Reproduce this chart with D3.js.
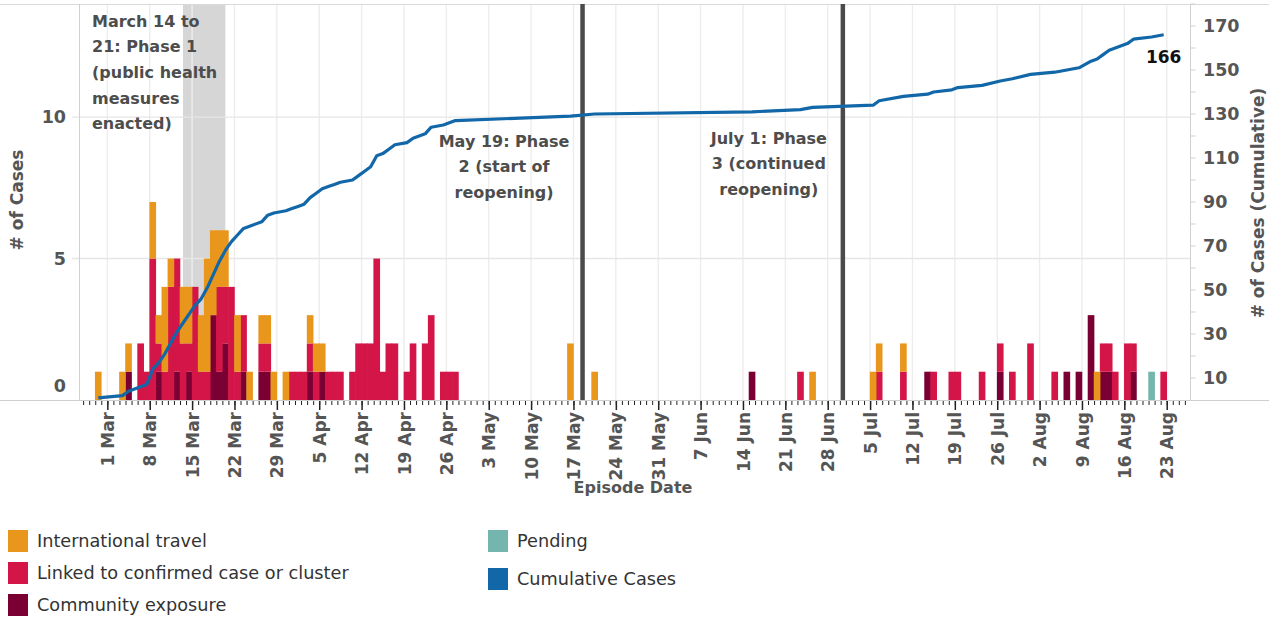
<!DOCTYPE html>
<html><head><meta charset="utf-8">
<script src="https://cdn.jsdelivr.net/npm/d3@7"></script>
<style>
body{margin:0;background:#fff;}
svg text{font-family:"DejaVu Sans",sans-serif;}
</style></head><body>
<svg id="chart" width="1269" height="617"></svg>
<script>
// ---------- data ----------
const dates = ["2020-02-28","2020-03-03","2020-03-04","2020-03-06","2020-03-07","2020-03-08","2020-03-09","2020-03-10","2020-03-11","2020-03-12",
 "2020-03-13","2020-03-14","2020-03-15","2020-03-16","2020-03-17","2020-03-18","2020-03-19","2020-03-20","2020-03-21","2020-03-22",
 "2020-03-23","2020-03-24","2020-03-26","2020-03-27","2020-03-28","2020-03-30","2020-03-31","2020-04-01","2020-04-02","2020-04-03",
 "2020-04-04","2020-04-05","2020-04-06","2020-04-07","2020-04-08","2020-04-10","2020-04-11","2020-04-12","2020-04-13","2020-04-14",
 "2020-04-15","2020-04-16","2020-04-17","2020-04-19","2020-04-20","2020-04-22","2020-04-23","2020-04-25","2020-04-26","2020-04-27",
 "2020-05-16","2020-05-20","2020-06-15","2020-06-23","2020-06-25","2020-07-05","2020-07-06","2020-07-10","2020-07-14","2020-07-15",
 "2020-07-18","2020-07-19","2020-07-23","2020-07-26","2020-07-28","2020-07-31","2020-08-04","2020-08-06","2020-08-08","2020-08-10",
 "2020-08-11","2020-08-12","2020-08-13","2020-08-14","2020-08-16","2020-08-17","2020-08-20","2020-08-22"];
const communityExposure = [0,0,1,0,0,0,1,0,0,1, 0,1,0,0,0,3,1,2,0,0, 1,0,1,1,0,0,0,0,0,1, 0,1,0,0,0,0,0,0,0,0,
 0,0,0,0,0,0,0,0,0,0, 0,0,1,0,0,0,0,0,1,0, 0,0,0,1,0,0,0,1,1,3, 0,1,1,0,0,1,0,0];
const linkedCases = [0,0,0,2,1,5,1,1,4,4, 2,1,4,1,1,0,3,2,4,1, 2,0,1,1,0,0,1,1,1,1, 1,0,1,1,1,1,2,2,2,5,
 1,2,2,1,2,2,3,1,1,1, 0,0,0,1,0,0,1,1,0,1, 1,1,1,1,1,2,1,0,0,0, 0,1,1,1,2,1,0,1];
const internationalTravel = [1,1,1,0,0,2,1,3,1,0, 2,2,0,2,4,3,2,2,0,2, 0,1,1,1,1,1,0,0,0,1, 1,1,0,0,0,0,0,0,0,0,
 0,0,0,0,0,0,0,0,0,0, 2,1,0,0,1,1,1,1,0,0, 0,0,0,0,0,0,0,0,0,0, 1,0,0,0,0,0,0,0];
const pendingCases = [0,0,0,0,0,0,0,0,0,0, 0,0,0,0,0,0,0,0,0,0, 0,0,0,0,0,0,0,0,0,0, 0,0,0,0,0,0,0,0,0,0,
 0,0,0,0,0,0,0,0,0,0, 0,0,0,0,0,0,0,0,0,0, 0,0,0,0,0,0,0,0,0,0, 0,0,0,0,0,0,1,0];
const cumulativeCases = [1,2,4,6,7,14,17,21,26,31, 35,39,43,46,51,57,63,68,72,75, 78,79,81,84,85,86,87,88,89,92,
 94,96,97,98,99,100,102,104,106,111, 112,114,116,117,119,121,124,125,126,127, 129,130,131,132,133,134,136,138,139,140,
 141,142,143,145,146,148,149,150,151,154, 155,157,159,160,162,164,165,166];

const seriesKeys = ["community","linked","intl","pending"];
const legendLabels = ["International travel","Linked to confirmed case or cluster","Community exposure","Pending","Cumulative Cases"];
const leftTicks = [0,5,10];
const rightTicks = [10,30,50,70,90,110,130,150,170];
const phase1 = {start:"2020-03-14", end:"2020-03-21", text:["March 14 to","21: Phase 1","(public health","measures","enacted)"]};
const phaseLines = [
  {date:"2020-05-19", text:["May 19: Phase","2 (start of","reopening)"]},
  {date:"2020-07-01", text:["July 1: Phase","3 (continued","reopening)"]}
];
const xTitle = "Episode Date", yTitle = "# of Cases", y2Title = "# of Cases (Cumulative)";

// ---------- styles ----------
const colors = {intl:"#e9961c", linked:"#d31548", community:"#7a0033", pending:"#74b6ae", cum:"#1167a8"};
const textGray = "#555";

// ---------- setup ----------
const svg = d3.select("#chart");
const parse = d3.utcParse("%Y-%m-%d");
const L = 79.5, R = 1190.5, T = 4, B = 400;
const x = d3.scaleUtc()
  .domain([new Date(Date.UTC(2020,1,25,9,36)), new Date(Date.UTC(2020,7,26,22,19))])
  .range([L, R]);
const yL = d3.scaleLinear().domain([0,14]).range([B, T]);
const yR = d3.scaleLinear().domain([0,180]).range([B, T]);
const half = d => d3.utcHour.offset(d, -12);

const rows = dates.map((d,i) => ({date: parse(d), community: communityExposure[i], linked: linkedCases[i],
  intl: internationalTravel[i], pending: pendingCases[i], cum: cumulativeCases[i]}));

// phase 1 band
svg.append("rect")
  .attr("x", x(half(parse(phase1.start)))).attr("y", T)
  .attr("width", x(half(parse(phase1.end))) - x(half(parse(phase1.start))))
  .attr("height", B - T).attr("fill", "#d6d6d6");

// vertical weekly gridlines
const sundays = d3.utcSunday.range(x.domain()[0], x.domain()[1]);
svg.append("g").selectAll("line").data(sundays).join("line")
  .attr("x1", d => x(d)).attr("x2", d => x(d)).attr("y1", T).attr("y2", B)
  .attr("stroke", "#ededed").attr("stroke-width", 1.4);

// horizontal gridlines (left axis)
svg.append("g").selectAll("line").data(leftTicks.filter(v => v > 0)).join("line")
  .attr("x1", 72).attr("x2", R).attr("y1", d => yL(d)).attr("y2", d => yL(d))
  .attr("stroke", "#e6e6e6").attr("stroke-width", 1.4);

// frame lines
svg.append("line").attr("x1",0).attr("x2",1269).attr("y1",T+0.5).attr("y2",T+0.5).attr("stroke","#d9d9d9");
svg.append("line").attr("x1",L).attr("x2",L).attr("y1",T).attr("y2",B).attr("stroke","#d0d0d0");
svg.append("line").attr("x1",R).attr("x2",R).attr("y1",T).attr("y2",B).attr("stroke","#d0d0d0");

// stacked bars
const stack = d3.stack().keys(seriesKeys)(rows);
const dayW = x(parse("2020-03-02")) - x(parse("2020-03-01"));
svg.append("g").selectAll("g").data(stack).join("g")
  .attr("fill", s => colors[s.key])
  .selectAll("rect").data(s => s.filter(p => p[1] > p[0])).join("rect")
  .attr("x", p => x(p.data.date) - 0.3)
  .attr("width", dayW + 0.6)
  .attr("y", p => yL(p[1]))
  .attr("height", p => yL(p[0]) - yL(p[1]));

// baseline
svg.append("line").attr("x1",0).attr("x2",1269).attr("y1",B+0.5).attr("y2",B+0.5).attr("stroke","#cfcfcf").attr("stroke-width",1.2);

// phase lines
svg.append("g").selectAll("line").data(phaseLines).join("line")
  .attr("x1", d => x(half(parse(d.date)))).attr("x2", d => x(half(parse(d.date))))
  .attr("y1", T).attr("y2", B).attr("stroke", "#4a4a4a").attr("stroke-width", 4.5);

// cumulative line
const line = d3.line().x(d => x(d3.utcHour.offset(d.date, 12))).y(d => yR(d.cum));
svg.append("path").datum(rows).attr("d", line).attr("fill","none")
  .attr("stroke", colors.cum).attr("stroke-width", 3.2).attr("stroke-linejoin","round");
const last = rows[rows.length-1];
svg.append("text").attr("x", x(d3.utcHour.offset(last.date,12))).attr("y", yR(last.cum) + 28)
  .attr("text-anchor","middle").attr("font-size",17).attr("font-weight","bold").attr("fill","#111")
  .text(last.cum);

// x axis ticks
const xMinor = d3.axisBottom(x).ticks(d3.utcDay.every(1)).tickSize(4).tickFormat("");
const gMinor = svg.append("g").attr("transform", `translate(0,${B+1})`).call(xMinor);
gMinor.select(".domain").remove();
gMinor.selectAll("line").attr("stroke","#222").attr("stroke-width",1);
const xMajor = d3.axisBottom(x).ticks(d3.utcSunday.every(1)).tickSize(9).tickFormat(d3.utcFormat("%-d %b"));
const gMajor = svg.append("g").attr("transform", `translate(0,${B+1})`).call(xMajor);
gMajor.select(".domain").remove();
gMajor.selectAll("line").attr("stroke","#222").attr("stroke-width",1.5);
gMajor.selectAll("text")
  .attr("transform","translate(0,11) rotate(-90)")
  .attr("x",0).attr("y",0).attr("dy","0.36em")
  .attr("text-anchor","end").attr("font-size",17).attr("font-weight","bold")
  .attr("font-family","DejaVu Sans").attr("fill",textGray);

// left axis labels
svg.append("g").selectAll("text").data(leftTicks).join("text")
  .attr("x", 66).attr("y", d => d === 0 ? yL(d) - 14 : yL(d)).attr("dy","0.36em")
  .attr("text-anchor","end").attr("font-size",17.5).attr("font-weight","bold").attr("fill",textGray)
  .text(d => d);

// right axis ticks + labels
svg.append("g").selectAll("line").data(d3.range(10,181,10)).join("line")
  .attr("x1", R).attr("x2", R+5).attr("y1", d => yR(d)).attr("y2", d => yR(d))
  .attr("stroke","#cfcfcf");
svg.append("g").selectAll("text").data(rightTicks).join("text")
  .attr("x", 1203).attr("y", d => yR(d)).attr("dy","0.36em")
  .attr("font-size",17.5).attr("font-weight","bold").attr("fill",textGray)
  .text(d => d);

// axis titles
svg.append("text").attr("transform","translate(17,200) rotate(-90)").attr("dy","0.36em")
  .attr("text-anchor","middle").attr("font-size",17).attr("font-weight","bold").attr("fill",textGray).text(yTitle);
svg.append("text").attr("transform","translate(1258,203) rotate(-90)").attr("dy","0.36em")
  .attr("text-anchor","middle").attr("font-size",17).attr("font-weight","bold").attr("fill",textGray).text(y2Title);
svg.append("text").attr("x",633).attr("y",487).attr("dy","0.36em")
  .attr("text-anchor","middle").attr("font-size",16).attr("font-weight","bold").attr("fill",textGray).text(xTitle);

// annotations
const ann1 = svg.append("text").attr("font-size",16).attr("font-weight","bold").attr("fill","#4d4d4d");
phase1.text.forEach((t,i) => ann1.append("tspan").attr("x", 92).attr("y", 21 + i*25.6).attr("dy","0.36em").text(t));
const annOffsets = [{dx:-78.5, y0:141},{dx:-74, y0:138}];
phaseLines.forEach((p,j) => {
  const cx = x(half(parse(p.date))) + annOffsets[j].dx;
  const g = svg.append("text").attr("font-size",16).attr("font-weight","bold").attr("fill","#4d4d4d").attr("text-anchor","middle");
  p.text.forEach((t,i) => g.append("tspan").attr("x", cx).attr("y", annOffsets[j].y0 + i*25.6).attr("dy","0.36em").text(t));
});

// legend
const legendItems = [
  {label: legendLabels[0], color: colors.intl, x: 8, y: 541},
  {label: legendLabels[1], color: colors.linked, x: 8, y: 573},
  {label: legendLabels[2], color: colors.community, x: 8, y: 605},
  {label: legendLabels[3], color: colors.pending, x: 488, y: 541},
  {label: legendLabels[4], color: colors.cum, x: 488, y: 579}
];
const lg = svg.append("g").selectAll("g").data(legendItems).join("g");
lg.append("rect").attr("x", d => d.x).attr("y", d => d.y - 11).attr("width", 20).attr("height", 22).attr("fill", d => d.color);
lg.append("text").attr("x", d => d.x + 29).attr("y", d => d.y).attr("dy","0.36em")
  .attr("font-size",17.7).attr("fill","#333").text(d => d.label);
</script>
</body></html>
